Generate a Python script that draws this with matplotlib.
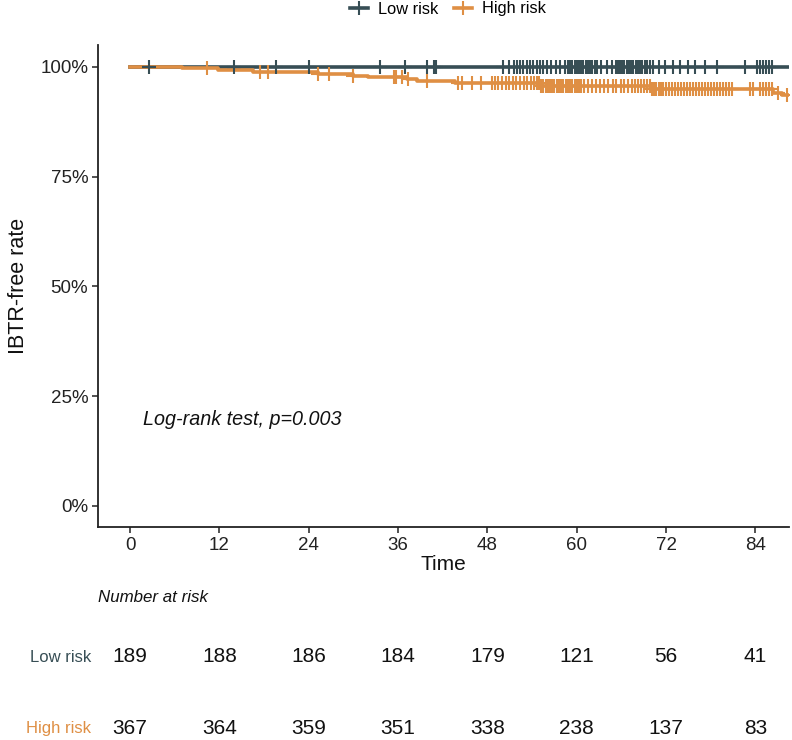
import numpy as np
import matplotlib
matplotlib.use("Agg")
import matplotlib.pyplot as plt
from matplotlib.lines import Line2D
from matplotlib.transforms import blended_transform_factory

plt.rcParams['font.family'] = ['Liberation Sans', 'DejaVu Sans']

# ---- data ----
groups = ["Low risk", "High risk"]
colors = ["#374E55", "#DF8F44"]

low_times = [0.0]
low_surv = [1.0]
low_end = 88.3
low_cens = [2.5, 14.0, 19.6, 24.0, 33.6, 36.9, 39.9, 40.8, 41.1,
            50.1, 50.9, 51.6, 52.0, 52.4, 52.8, 53.3, 53.7, 54.1, 54.6, 55.0,
            55.5, 56.0, 56.6, 57.2, 57.8, 58.4, 58.8, 59.1, 59.4, 59.7, 60.0,
            60.3, 60.6, 60.9, 61.2, 61.5, 61.8, 62.1, 62.4, 62.7, 63.3, 64.0,
            64.7, 65.2, 65.5, 65.8, 66.1, 66.4, 66.7, 67.0, 67.3, 67.6, 67.9,
            68.2, 68.5, 68.8, 69.1, 69.4, 69.8, 70.2, 71.0, 71.9, 72.9, 73.8,
            74.9, 75.9, 77.2, 78.8, 82.6, 84.2, 84.6, 85.0, 85.4, 85.8, 86.2]

high_times = [0.0, 7.0, 11.8, 16.5, 25.2, 30.0, 32.0, 36.5, 37.2, 38.6, 43.6, 55.0, 70.0, 86.3, 87.5]
high_surv = [1.0, 0.997, 0.9925, 0.988, 0.984, 0.980, 0.978, 0.9765, 0.973, 0.968, 0.963, 0.956, 0.950, 0.940, 0.935]
high_end = 88.5
high_cens = [10.4, 17.4, 18.5, 25.2, 26.7, 30.0, 35.4, 35.7, 36.5, 37.3, 39.9, 44.0, 44.6, 45.9, 47.2,
             48.6, 49.0, 49.4, 49.9, 50.5, 50.9, 51.4, 51.9, 52.4, 52.9, 53.3, 53.8, 54.2, 54.6,
             54.9, 55.2, 55.5, 55.8, 56.1, 56.4, 56.7, 57.0, 57.3, 57.6, 57.9, 58.2, 58.5, 58.8,
             59.1, 59.4, 59.7, 60.0, 60.3, 60.6, 61.0, 61.5, 62.0, 62.6, 63.1, 63.6, 64.2, 64.8,
             65.3, 65.9, 66.4, 66.9, 67.4, 67.8, 68.2, 68.6, 69.0, 69.4, 69.8, 70.1, 70.4, 70.7,
             71.0, 71.3, 71.6, 72.0, 72.4, 72.8, 73.2, 73.6, 74.0, 74.4, 74.8, 75.2, 75.6, 76.0,
             76.4, 76.8, 77.2, 77.6, 78.0, 78.4, 78.8, 79.2, 79.6, 80.0, 80.4, 80.8, 83.2, 83.6,
             84.6, 85.0, 85.4, 85.8, 86.2, 87.0, 88.2]

risk_times = [0, 12, 24, 36, 48, 60, 72, 84]
low_risk_n = [189, 188, 186, 184, 179, 121, 56, 41]
high_risk_n = [367, 364, 359, 351, 338, 238, 137, 83]

# ---- figure ----
W, H = 792, 740
fig = plt.figure(figsize=(W / 100, H / 100), dpi=100)
ax = fig.add_axes([98 / W, 1 - 527 / H, (789 - 98) / W, (527 - 45) / H])


def surv_at(times, surv, t):
    idx = np.searchsorted(np.asarray(times), np.asarray(t), side="right") - 1
    return np.asarray(surv)[idx]


curves = [(low_times, low_surv, low_end, low_cens), (high_times, high_surv, high_end, high_cens)]
for (tt, ss, tend, cens), col in zip(curves, colors):
    x = list(tt) + [tend]
    y = list(ss) + [ss[-1]]
    ax.step(x, y, where="post", color=col, lw=2.6, zorder=3)
    ax.plot(cens, surv_at(tt, ss, cens), ls="none", marker="+", ms=10, mew=1.5,
            color=col, zorder=4)

ax.set_xlim(-4.3, 88.5)
ax.set_ylim(-0.048, 1.05)
ax.set_xticks(risk_times)
ax.set_yticks([0, 0.25, 0.5, 0.75, 1.0])
ax.set_yticklabels(["0%", "25%", "50%", "75%", "100%"])
for s in ["top", "right"]:
    ax.spines[s].set_visible(False)
for s in ["left", "bottom"]:
    ax.spines[s].set_linewidth(1.3)
    ax.spines[s].set_color("#222222")
ax.tick_params(axis="both", labelsize=13.5, length=4, width=1.1, colors="#222222",
               labelcolor="#222222", pad=3)
ax.set_xlabel("Time", fontsize=15, labelpad=1, color="#111111")
ax.set_ylabel("IBTR-free rate", fontsize=15.5, labelpad=8, color="#111111")

ax.text(1.7, 0.198, "Log-rank test, p=0.003", fontsize=14.2, style="italic",
        va="center", ha="left", color="#111111")

# legend
handles = [Line2D([], [], color=c, lw=2.6, marker="+", ms=10, mew=1.5) for c in colors]
fig.legend(handles, groups, loc="center", bbox_to_anchor=(448 / W, 1 - 9 / H), ncol=2,
           frameon=False, fontsize=11.8, handlelength=1.1, columnspacing=1.0,
           handletextpad=0.6)

# risk table
tr = blended_transform_factory(ax.transData, fig.transFigure)
fig.text(98 / W, 1 - 597 / H, "Number at risk", fontsize=12.2, style="italic",
         va="center", ha="left", color="#111111")
rows = [(low_risk_n, 1 - 657 / H), (high_risk_n, 1 - 728 / H)]
for (vals, yy), name, col in zip(rows, groups, colors):
    for t, v in zip(risk_times, vals):
        ax.text(t, yy, str(v), transform=tr, ha="center", va="center", fontsize=15,
                color="#111111")
    fig.text(91 / W, yy, name, ha="right", va="center", fontsize=12, color=col)

fig.savefig("out.png", dpi=100)
